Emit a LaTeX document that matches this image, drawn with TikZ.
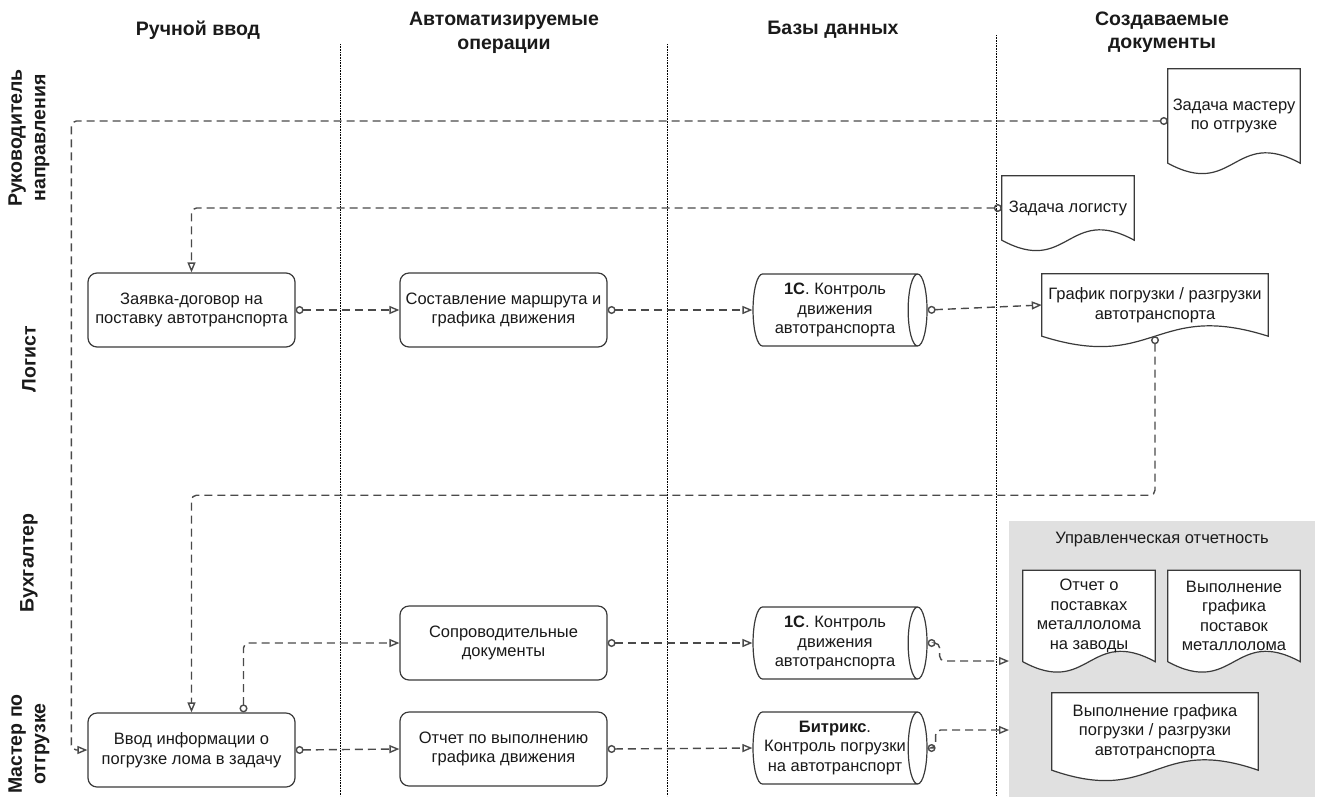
\documentclass[tikz,border=0pt]{standalone}
\usepackage{fontspec}
\setmainfont{Liberation Sans}
\usetikzlibrary{arrows.meta,positioning,shapes.geometric,calc}
\definecolor{bpline}{HTML}{4A4A4A}
\definecolor{bpedge}{HTML}{3A3A3A}
\definecolor{bpgroup}{HTML}{E0E0E0}
\definecolor{bptext}{HTML}{1A1A1A}
\pgfdeclarelayer{bg}
\pgfsetlayers{bg,main}

\begin{document}
\begin{tikzpicture}[x=1pt,y=-1pt,
  txt/.style={font=\fontsize{16.5}{19.5}\selectfont,text=bptext,align=center},
  head/.style={font=\fontsize{19.5}{23.5}\selectfont\bfseries,text=bptext,align=center},
  lane/.style={head,rotate=90},
  proc/.style={txt,draw=bpedge,line width=1.2pt,rounded corners=9pt,
    minimum width=207pt,minimum height=74pt,inner sep=2pt,fill=white},
  base/.style={txt,draw=bpedge,line width=1.2pt,shape=cylinder,aspect=0.35,
    minimum height=174pt,minimum width=72pt,inner sep=0pt,fill=white},
  docu/.style={txt,inner sep=0pt},
  docline/.style={draw=bpedge,line width=1.2pt,fill=white},
  flow/.style={draw=bpline,line width=1.4pt,dash pattern=on 8pt off 5pt,
    rounded corners=5pt,{Circle[open,length=8pt]}-{Triangle[open,length=10pt,width=8pt]}},
  column/.style={densely dotted,line width=0.6pt,black}
]
  \useasboundingbox (0,0) rectangle (1322,796);

  % ---- Column headings and lanes ----
  \node[head] (hman) at (198,30) {Ручной ввод};
  \node[head] (hauto) at (504,33) {Автоматизируемые\\операции};
  \node[head] (hbase) at (833,30) {Базы данных};
  \node[head] (hdoc) at (1162,32) {Создаваемые\\документы};
  \foreach \cx/\cy in {340/44,667/44,996/35}
    \draw[column] (\cx,\cy) -- (\cx,796);

  \node[lane] (lhead) at (29,138) {Руководитель\\направления};
  \node[lane] (llog) at (29,359) {Логист};
  \node[lane] (lacc) at (29,563) {Бухгалтер};
  \node[lane] (lmas) at (29,744) {Мастер по\\отгрузке};

  % ---- Manual input and operations ----
  \node[proc] (zayav) at (191.5,310) {Заявка-договор на\\поставку автотранспорта};
  \node[proc] (route) at (503.5,310) {Составление маршрута и\\графика движения};
  \node[proc] (vvod) at (191.5,750) {Ввод информации о\\погрузке лома в задачу};
  \node[proc] (soprov) at (503.5,643) {Сопроводительные\\документы};
  \node[proc] (otchet) at (503.5,749) {Отчет по выполнению\\графика движения};

  % ---- Databases ----
  \node[base] (db1c) at (835,310) {\textbf{1С}. Контроль\\движения\\автотранспорта};
  \node[base] (db1cb) at (835,643) {\textbf{1С}. Контроль\\движения\\автотранспорта};
  \node[base] (dbbx) at (835,748) {\textbf{Битрикс}.\\Контроль погрузки\\на автотранспорт};

  % ---- Created documents ----
  \node[docu,minimum width=132pt,minimum height=94pt] (tmas) at (1234,116) {Задача мастеру\\по отгрузке};
  \node[docu,minimum width=132pt,minimum height=64pt] (tlog) at (1068,208) {Задача логисту};
  \node[docu,minimum width=226pt,minimum height=62pt] (graf) at (1155,305) {График погрузки / разгрузки\\автотранспорта};

  % management reports group
  \node[inner sep=0pt,minimum width=306pt,minimum height=276pt] (mgmt) at (1162,659) {};
  \node[txt] (mgmtt) at (1162,540) {Управленческая отчетность};
  \node[docu,minimum width=132pt,minimum height=91pt] (rzav) at (1089,616) {Отчет о\\поставках\\металлолома\\на заводы};
  \node[docu,minimum width=132pt,minimum height=91pt] (rpost) at (1234,616) {Выполнение\\графика\\поставок\\металлолома};
  \node[docu,minimum width=206pt,minimum height=77pt] (rgraf) at (1155,731.5) {Выполнение графика\\погрузки / разгрузки\\автотранспорта};
  \coordinate (inz) at (1009,661);
  \coordinate (inb) at (1009,730);

  \begin{pgfonlayer}{bg}
    \fill[bpgroup] (mgmt.north west) rectangle (mgmt.south east);
    \foreach \n in {tmas,tlog,graf,rzav,rpost,rgraf}
      \draw[docline] (\n.south west) -- (\n.north west) -- (\n.north east)
        -- (\n.south east) .. controls ($(\n.south)+(0,-36)$) and ($(\n.south)+(0,36)$)
        .. (\n.south west) -- cycle;
  \end{pgfonlayer}

  % ---- Flows ----
  \draw[flow] (zayav.east) -- (route.west);
  \draw[flow] (route.east) -- (db1c.west);
  \draw[flow] (db1c.east) -- (graf.west);
  \draw[flow] (tlog.west) -| (zayav.north);
  \draw[flow] ($(tmas.west)+(0,5)$) -| ($(vvod.west)+(-16,0)$) -- (vvod.west);
  \draw[flow] (graf.south) -- ++(0,159) -| (vvod.north);
  \draw[flow] ($(vvod.north)+(52,0)$) |- (soprov.west);
  \draw[flow] (vvod.east) -- (otchet.west);
  \draw[flow] (soprov.east) -- (db1cb.west);
  \draw[flow] (otchet.east) -- (dbbx.west);
  \draw[flow] (db1cb.east) -- ++(12,0) |- (inz);
  \draw[flow] (dbbx.east) -- ++(8,0) |- (inb);

\end{tikzpicture}
\end{document}
